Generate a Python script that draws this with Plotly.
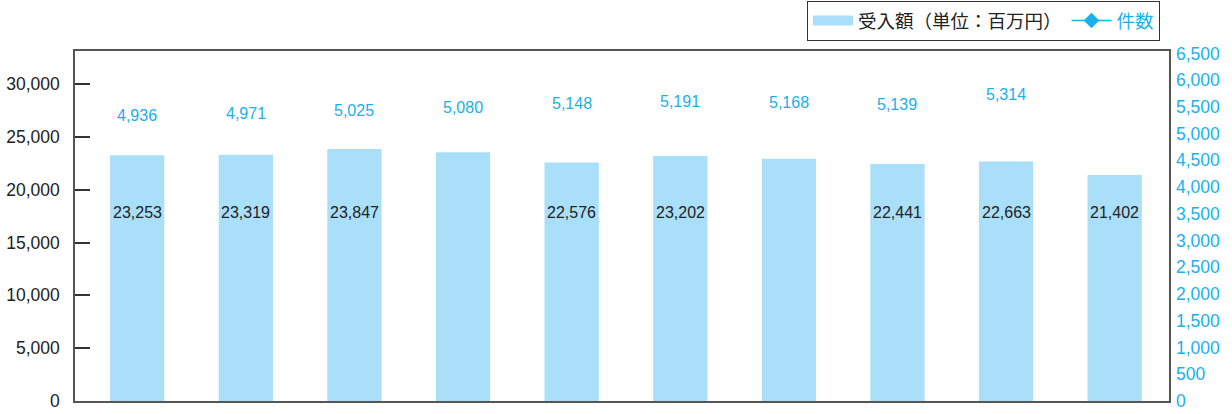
import plotly.graph_objects as go

# ---- data ----
periods = ["P1", "P2", "P3", "P4", "P5", "P6", "P7", "P8", "P9", "P10"]
amount = [23253, 23319, 23847, 23550, 22576, 23202, 22920, 22441, 22663, 21402]
amount_labels = ["23,253", "23,319", "23,847", "", "22,576", "23,202", "", "22,441", "22,663", "21,402"]
count = [4936, 4971, 5025, 5080, 5148, 5191, 5168, 5139, 5314, None]
count_labels = ["4,936", "4,971", "5,025", "5,080", "5,148", "5,191", "5,168", "5,139", "5,314", ""]
left_ticks = [0, 5000, 10000, 15000, 20000, 25000, 30000]
right_ticks = list(range(0, 6501, 500))
name_amount = "受入額（単位：百万円）"
name_count = "件数"

# ---- style ----
BAR = "#aadff9"
BLUE = "#1ab0ec"
DARK = "#222222"
FONT = "Liberation Sans, Arial, Noto Sans CJK JP"
BAR_LABEL_LEVEL = 17800   # fixed height at which bar values are written
COUNT_SHIFT = 22          # px above the count value
W, H = 1232, 414

fig = go.Figure()
fig.add_trace(go.Bar(x=periods, y=amount, name=name_amount, showlegend=False,
                     marker=dict(color=BAR, line=dict(width=0))))
# legend entries (wide swatch for the bars; the count line itself is not drawn in the chart)
fig.add_trace(go.Scatter(x=[periods[0]], y=[None], mode="lines", name=name_amount,
                         line=dict(color=BAR, width=11)))
fig.add_trace(go.Scatter(x=[periods[0]], y=[None], yaxis="y2", mode="lines+markers",
                         name="<span style='color:%s'>%s</span>" % (BLUE, name_count),
                         line=dict(color=BLUE, width=1.5),
                         marker=dict(symbol="diamond", size=12, color=BLUE)))

ann = []
for p, lab in zip(periods, amount_labels):
    if lab:
        ann.append(dict(x=p, y=BAR_LABEL_LEVEL, xref="x", yref="y", text=lab, showarrow=False,
                        font=dict(size=16, color=DARK, family=FONT)))
for p, v, lab in zip(periods, count, count_labels):
    if lab and v is not None:
        ann.append(dict(x=p, y=v, xref="x", yref="y2", text=lab, showarrow=False, yshift=COUNT_SHIFT,
                        font=dict(size=16, color=BLUE, family=FONT)))

fig.update_layout(
    width=W, height=H,
    margin=dict(l=75, r=63, t=51, b=13, autoexpand=False),
    paper_bgcolor="white", plot_bgcolor="white",
    font=dict(family=FONT, size=17.5, color=DARK),
    bargap=0.5,
    showlegend=True,
    legend=dict(orientation="h", x=1160 / W, xanchor="right", y=1 - 21 / H, yanchor="middle",
                xref="container", yref="container",
                bordercolor="#333333", borderwidth=1, bgcolor="white",
                font=dict(size=18.5, color=DARK, family=FONT), itemwidth=40),
    xaxis=dict(type="category", showticklabels=False, ticks="", showgrid=False, showline=True,
               linecolor="#555555", linewidth=1.5, mirror=True, zeroline=False, automargin=False),
    yaxis=dict(range=[0, 33130], tickvals=left_ticks, tickformat=",", ticks="inside",
               ticklen=15, tickcolor="#333333", tickwidth=1.5, showgrid=False, showline=True,
               linecolor="#555555", linewidth=1.5, mirror=True, zeroline=False, automargin=False,
               ticklabelstandoff=10, tickfont=dict(size=17.5, color=DARK)),
    yaxis2=dict(range=[0, 6545], tickvals=right_ticks, tickformat=",", overlaying="y",
                side="right", showgrid=False, showline=False, zeroline=False, ticks="",
                automargin=False, ticklabelstandoff=6, tickfont=dict(size=17.5, color=BLUE)),
    annotations=ann,
)

fig.write_html("out.html", config={"displayModeBar": False},
               post_script="document.body.style.margin='0';")
